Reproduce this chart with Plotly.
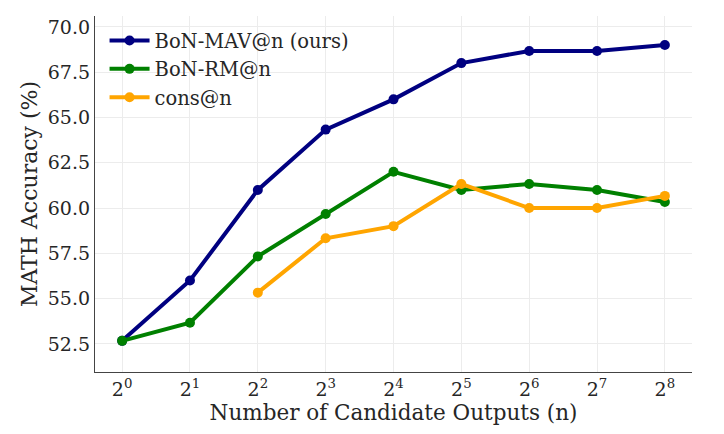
import math
import plotly.graph_objects as go

n_values = [1, 2, 4, 8, 16, 32, 64, 128, 256]
exponents = [0, 1, 2, 3, 4, 5, 6, 7, 8]
bon_mav = [52.67, 56.0, 61.0, 64.33, 66.0, 68.0, 68.67, 68.67, 69.0]
bon_rm = [52.67, 53.67, 57.33, 59.67, 62.0, 61.0, 61.33, 61.0, 60.33]
cons = [None, None, 55.33, 58.33, 59.0, 61.33, 60.0, 60.0, 60.67]
y_ticks = [52.5, 55.0, 57.5, 60.0, 62.5, 65.0, 67.5, 70.0]

series = [
    ("BoN-MAV@n (ours)", bon_mav, "#000080"),
    ("BoN-RM@n", bon_rm, "#008000"),
    ("cons@n", cons, "#FFA500"),
]

fig = go.Figure()
for name, vals, color in series:
    fig.add_trace(
        go.Scatter(
            x=n_values, y=vals, name=name, mode="lines+markers",
            line=dict(color=color, width=4),
            marker=dict(color=color, size=10),
        )
    )

font = "DejaVu Serif"
fig.update_layout(
    width=724, height=434,
    # page body adds an 8px offset, margins compensate for it
    margin=dict(l=87, r=40, t=8, b=70),
    paper_bgcolor="white", plot_bgcolor="white",
    font=dict(family=font, size=19, color="#262626"),
    showlegend=True,
    legend=dict(x=0.016, y=0.985, xanchor="left", yanchor="top",
                bgcolor="rgba(255,255,255,0)", font=dict(size=19.5),
                tracegroupgap=0, itemwidth=40),
    xaxis=dict(
        type="log",
        range=[math.log10(2 ** -0.4), math.log10(2 ** 8.4)],
        tickvals=n_values,
        ticktext=["2<sup>%d</sup>" % e for e in exponents],
        showgrid=True, gridcolor="#ececec", gridwidth=1,
        showline=True, linecolor="#444", linewidth=1.2,
        ticks="", zeroline=False, automargin=False,
        tickfont=dict(size=19),
        title=dict(text="Number of Candidate Outputs (n)", font=dict(size=21.5), standoff=6),
    ),
    yaxis=dict(
        range=[50.95, 70.6],
        tickvals=y_ticks,
        ticktext=["%.1f" % v for v in y_ticks],
        showgrid=True, gridcolor="#ececec", gridwidth=1,
        showline=True, linecolor="#444", linewidth=1.2,
        ticks="", zeroline=False, automargin=False,
        tickfont=dict(size=19),
        title=dict(text="MATH Accuracy (%)", font=dict(size=22), standoff=4),
    ),
)

fig.write_html("out.html")
